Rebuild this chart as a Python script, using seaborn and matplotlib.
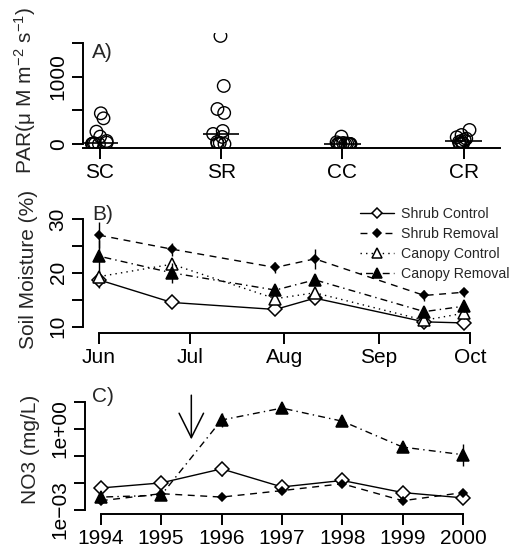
import numpy as np
import pandas as pd
import matplotlib
matplotlib.use("Agg")
import matplotlib.pyplot as plt
import seaborn as sns

# panel A: PAR by treatment
sites = ["SC", "SR", "CC", "CR"]
par_sc = [458, 383, 184, 110, 45, 20, 12, 5, 2, 0, 0]
par_sr = [1612, 866, 522, 463, 194, 150, 105, 30, 15, 5, 0]
par_cc = [110, 25, 15, 8, 5, 0, 0, 0, 0, 0, 0]
par_cr = [209, 134, 100, 80, 60, 45, 30, 15, 8, 3, 0]

# panel B: soil moisture over the season
b_dates = ["06-01", "06-25", "07-29", "08-11", "09-16", "09-29"]
month_names = ["Jun", "Jul", "Aug", "Sep", "Oct"]
sm_shrub_ctrl = [18.7, 14.5, 13.2, 15.3, 10.9, 10.7]
sm_shrub_rem = [27.0, 24.4, 21.0, 22.6, 15.8, 16.4]
sm_can_ctrl = [19.3, 21.6, 15.2, 16.3, 11.2, 12.5]
sm_can_rem = [23.1, 20.0, 16.8, 18.7, 12.8, 13.8]
se_shrub_ctrl = [1.5, 0.5, 0.8, 1.0, 0.5, 0.5]
se_shrub_rem = [2.4, 1.2, 1.0, 1.9, 1.0, 0.8]
se_can_ctrl = [1.0, 1.0, 0.8, 1.0, 0.5, 1.0]
se_can_rem = [3.0, 1.8, 1.0, 1.0, 0.8, 1.0]

# panel C: nitrate by year
years = [1994, 1995, 1996, 1997, 1998, 1999, 2000]
no3_shrub_ctrl = [0.0065, 0.010, 0.033, 0.0071, 0.0123, 0.0044, 0.0028]
no3_shrub_rem = [0.0022, 0.0040, 0.0030, 0.0052, 0.0093, 0.0022, 0.0044]
no3_can_rem = [0.0030, 0.0035, 2.1, 5.8, 1.9, 0.21, 0.11]
lse_shrub_ctrl = [0.05, 0.12, 0.27, 0.08, 0.08, 0.1, 0.05]
lse_shrub_rem = [0.05, 0.05, 0.05, 0.05, 0.08, 0.05, 0.05]
lse_can_rem = [0.05, 0.05, 0.27, 0.1, 0.15, 0.1, 0.4]

sns.set_style("ticks")
plt.rcParams["font.family"] = ["Liberation Sans", "DejaVu Sans"]
plt.rcParams["mathtext.fontset"] = "custom"
plt.rcParams["mathtext.rm"] = "Liberation Sans"
plt.rcParams["mathtext.it"] = "Liberation Sans"
plt.rcParams["mathtext.default"] = "regular"

fs = 15
W, H = 519, 554
fig = plt.figure(figsize=(W / 100, H / 100), dpi=100)


def rect(left, right, top, bottom):
    return [left / W, (H - bottom) / H, (right - left) / W, (bottom - top) / H]


def r_style(ax):
    sns.despine(ax=ax)
    for s in ["left", "bottom"]:
        ax.spines[s].set_linewidth(1.4)
        ax.spines[s].set_color("k")
    ax.tick_params(axis="both", direction="out", length=8, width=1.4,
                   labelsize=fs, colors="k", pad=3)
    plt.setp(ax.get_yticklabels(), rotation=90, va="center")


#panel A
axA = fig.add_axes(rect(83, 500, 33, 148))
dfA = pd.DataFrame({
    "site": np.repeat(sites, [len(par_sc), len(par_sr), len(par_cc), len(par_cr)]),
    "par": par_sc + par_sr + par_cc + par_cr,
})
np.random.seed(3)
sns.stripplot(data=dfA, x="site", y="par", order=sites, jitter=0.07, size=9,
              color="k", linewidth=1.0, edgecolor="k", ax=axA)
for c in axA.collections:
    c.set_facecolor("none")
med = dfA.groupby("site")["par"].median().reindex(sites).values
pos = np.arange(len(sites))
axA.hlines(med, pos - 0.15, pos + 0.15, color="k", lw=1.2)
axA.set_xlim(-0.14, 3.3)
axA.set_ylim(-60, 1656)
axA.set_yticks([0, 500, 1000, 1500])
axA.set_yticklabels(["0", "", "1000", ""])
axA.set_xlabel("")
axA.set_ylabel("PAR($\\mu$ M m$^{-2}$ s$^{-1}$)", fontsize=fs, labelpad=8)
r_style(axA)
axA.spines["left"].set_bounds(0, 1500)

#panel B
axB = fig.add_axes(rect(83, 500, 205, 333))
start = pd.Timestamp("2000-06-01")
bx = [(pd.Timestamp("2000-" + d) - start).days for d in b_dates]
mx = [(pd.Timestamp("2000-%02d-01" % m) - start).days for m in range(6, 11)]
seriesB = [
    ("Shrub Control", sm_shrub_ctrl, se_shrub_ctrl, "D", 7, "white", "-"),
    ("Shrub Removal", sm_shrub_rem, se_shrub_rem, "D", 4.5, "k", (0, (5, 4))),
    ("Canopy Control", sm_can_ctrl, se_can_ctrl, "^", 8.5, "white", (0, (1, 3))),
    ("Canopy Removal", sm_can_rem, se_can_rem, "^", 8.5, "k", (0, (1, 3, 5, 3))),
]
for name, vals, se, mk, ms, fc, ls in seriesB:
    axB.errorbar(bx, vals, yerr=se, fmt="none", ecolor="k", elinewidth=1.0)
    sns.lineplot(x=bx, y=vals, ax=axB, color="k", lw=1.0, linestyle=ls,
                 marker=mk, markersize=ms, markerfacecolor=fc,
                 markeredgecolor="k", markeredgewidth=1.1, label=name)
axB.set_xlim(-5.26, 131.9)
axB.set_ylim(8.83, 32.6)
axB.set_xticks(mx)
axB.set_xticklabels(month_names)
axB.set_yticks([10, 15, 20, 25, 30])
axB.set_yticklabels(["10", "", "20", "", "30"])
axB.set_ylabel("Soil Moisture (%)", fontsize=fs, labelpad=8)
r_style(axB)
axB.spines["left"].set_bounds(10, 30)
axB.spines["bottom"].set_bounds(mx[0], mx[-1])
leg = axB.legend(loc="upper left", bbox_to_anchor=(360 / W, 1 - 207 / H),
                 bbox_transform=fig.transFigure, frameon=False, fontsize=10.2,
                 handlelength=2.4, handletextpad=0.5, labelspacing=0.42,
                 borderaxespad=0, borderpad=0, markerscale=0.8)

#panel C
axC = fig.add_axes(rect(85, 500, 385, 514))
seriesC = [
    ("Shrub Control", no3_shrub_ctrl, lse_shrub_ctrl, "D", 7, "white", "-"),
    ("Shrub Removal", no3_shrub_rem, lse_shrub_rem, "D", 4.5, "k", (0, (5, 4))),
    ("Canopy Removal", no3_can_rem, lse_can_rem, "^", 8.5, "k", (0, (1, 3, 5, 3))),
]
for name, vals, lse, mk, ms, fc, ls in seriesC:
    v = np.array(vals)
    f = 10 ** np.array(lse)
    axC.errorbar(years, v, yerr=[v - v / f, v * f - v], fmt="none",
                 ecolor="k", elinewidth=1.0)
    sns.lineplot(x=years, y=vals, ax=axC, color="k", lw=1.0, linestyle=ls,
                 marker=mk, markersize=ms, markerfacecolor=fc,
                 markeredgecolor="k", markeredgewidth=1.1, legend=False)
axC.set_yscale("log")
axC.set_xlim(1993.74, 2000.61)
axC.set_ylim(10 ** -3.148, 10 ** 1.616)
axC.set_xticks(years)
axC.set_xticklabels([str(y) for y in years])
axC.set_yticks([1e-3, 1e-2, 1e-1, 1e0, 1e1])
axC.set_yticklabels(["1e\u221203", "", "", "1e+00", ""])
axC.minorticks_off()
axC.set_ylabel("NO3 (mg/L)", fontsize=fs, labelpad=8)
r_style(axC)
axC.spines["left"].set_bounds(1e-3, 1e1)
axC.spines["bottom"].set_bounds(1994, 2000)
axC.annotate("", xy=(1995.5, 0.32), xytext=(1995.5, 22),
             arrowprops=dict(arrowstyle="->,head_length=1.1,head_width=0.55",
                             color="k", lw=1.1, mutation_scale=16))

for lab, y in [("A)", 52), ("B)", 215), ("C)", 397)]:
    fig.text(92 / W, 1 - y / H, lab, fontsize=fs, va="center", ha="left")

fig.savefig("out.png", dpi=100)
